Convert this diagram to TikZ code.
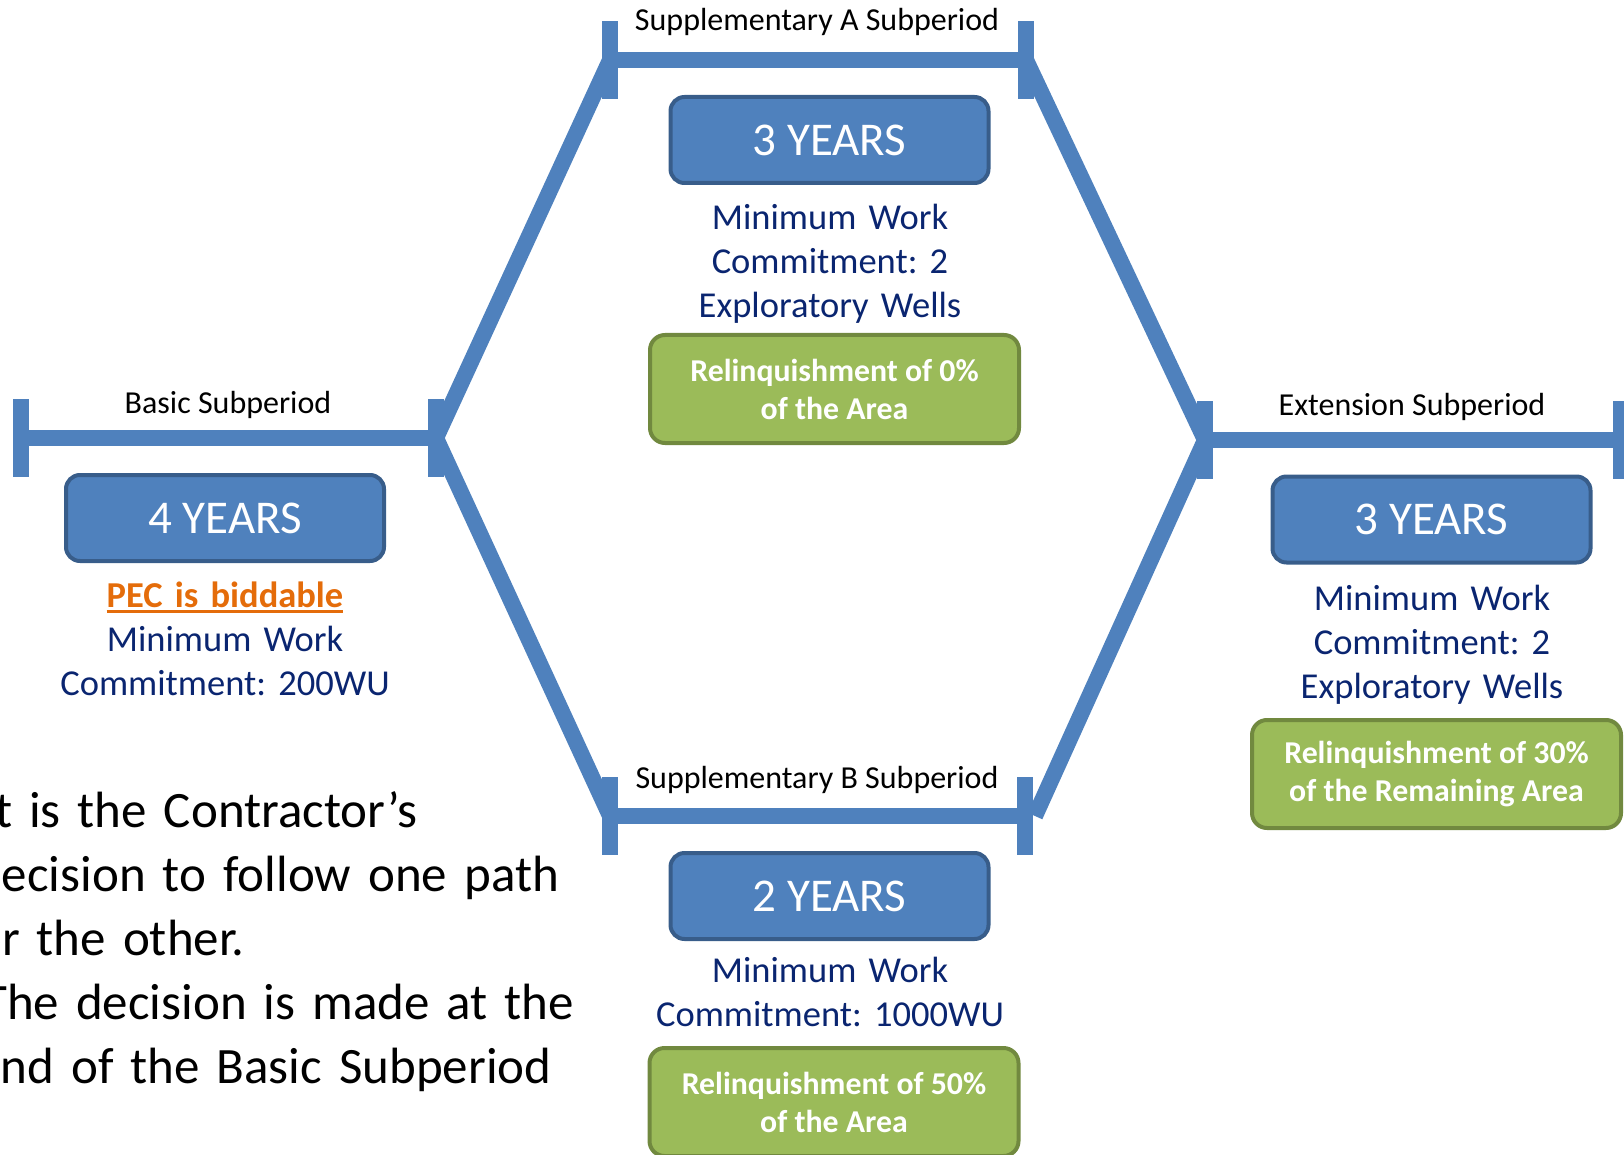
\documentclass[tikz,border=0pt]{standalone}
\usepackage{fontspec}
\setmainfont{Carlito}
\definecolor{lineblue}{HTML}{4F81BD}
\definecolor{boxblue}{HTML}{4F81BD}
\definecolor{boxborder}{HTML}{385D8A}
\definecolor{relgreen}{HTML}{9BBB59}
\definecolor{relborder}{HTML}{71893F}
\definecolor{navytext}{HTML}{0A2570}
\definecolor{pecorange}{HTML}{E46C0A}
\newcommand\pecunder[1]{\setbox0\hbox{#1}\rlap{\usebox0}\rule[-5.5pt]{\wd0}{2.5pt}}
\begin{document}
\frenchspacing
\begin{tikzpicture}[x=1pt,y=-1pt,
  periodbar/.style={draw=lineblue, line width=16pt},
  tickmark/.style={rectangle, fill=lineblue, minimum width=16pt, minimum height=78pt, inner sep=0pt},
  yearsbox/.style={rectangle, rounded corners=14pt, fill=boxblue, draw=boxborder, line width=4pt,
    minimum width=318pt, minimum height=86pt, text=white, font=\fontsize{47}{56}\selectfont, inner sep=0pt},
  relbox/.style={rectangle, rounded corners=15pt, fill=relgreen, draw=relborder, line width=4pt,
    minimum width=369pt, minimum height=108pt, text=white, font=\bfseries\fontsize{31.8}{38}\selectfont,
    align=center, inner sep=0pt},
  periodlabel/.style={font=\fontsize{32}{38}\selectfont, anchor=base, inner sep=0pt},
  infotext/.style={text=navytext, font=\fontsize{36.5}{44}\selectfont, text width=440pt,
    anchor=base, inner sep=0pt},
  notetext/.style={font=\fontsize{51}{64}\selectfont, text width=700pt, anchor=base west, inner sep=0pt}
]
\useasboundingbox (0,0) rectangle (1624,1155);
\clip (0,0) rectangle (1624,1155);

% tick marks
\node[tickmark] (tb1) at (21,438) {};
\node[tickmark] (tb2) at (436,438) {};
\node[tickmark] (ta1) at (610,60) {};
\node[tickmark] (ta2) at (1026,60) {};
\node[tickmark] (tB1) at (610,816) {};
\node[tickmark] (tB2) at (1025,816) {};
\node[tickmark] (te1) at (1205,440) {};
\node[tickmark] (te2) at (1621,440) {};

% bars
\draw[periodbar] (tb1) -- (tb2);
\draw[periodbar] (ta1) -- (ta2);
\draw[periodbar] (tB1) -- (tB2);
\draw[periodbar] (te1) -- (te2);

% diagonals
\draw[periodbar] (tb2.center) -- (ta1.center);
\draw[periodbar] (tb2.center) -- (tB1.center);
\draw[periodbar] (ta2.center) -- (te1.center);
\draw[periodbar] (te1.center) -- ([xshift=10pt]tB2.center);

% period labels
\node[periodlabel] (lbasic) at (228,413) {Basic Subperiod};
\node[periodlabel] (lsa) at (817,31) {Supplementary A Subperiod};
\node[periodlabel] (lsb) at (817,788) {Supplementary B Subperiod};
\node[periodlabel] (lext) at (1412,415) {Extension Subperiod};

% year boxes
\node[yearsbox] (ybasic) at (225,518) {4 YEARS};
\node[yearsbox] (ysa) at (829.5,140) {3 YEARS};
\node[yearsbox] (ysb) at (829.5,896) {2 YEARS};
\node[yearsbox] (yext) at (1431.5,519.5) {3 YEARS};

% commitments
\node[infotext] (ibasic) at (225,607) {\centering{\color{pecorange}\bfseries\pecunder{PEC is biddable}}\\Minimum Work\\Commitment: 200WU\par};
\node[infotext] (isa) at (830,230) {\centering Minimum Work\\Commitment: 2\\Exploratory Wells\par};
\node[infotext] (isb) at (830,982) {\centering Minimum Work\\Commitment: 1000WU\par};
\node[infotext] (iext) at (1432,610) {\centering Minimum Work\\Commitment: 2\\Exploratory Wells\par};

% relinquishment boxes
\node[relbox] (rsa) at (834.5,389) {Relinquishment of 0\%\\of the Area};
\node[relbox] (rsb) at (834,1102) {Relinquishment of 50\%\\of the Area};
\node[relbox] (rext) at (1436.5,774) {Relinquishment of 30\%\\of the Remaining Area};

% notes
\node[notetext] (n1) at (-25,827) {\raggedright\hspace*{7pt}It is the Contractor’s\\decision to follow one path\\or the other.\par};
\node[notetext] (n2) at (-25,1019) {\raggedright\hspace*{7pt}The decision is made at the\\end of the Basic Subperiod\par};
\end{tikzpicture}
\end{document}
